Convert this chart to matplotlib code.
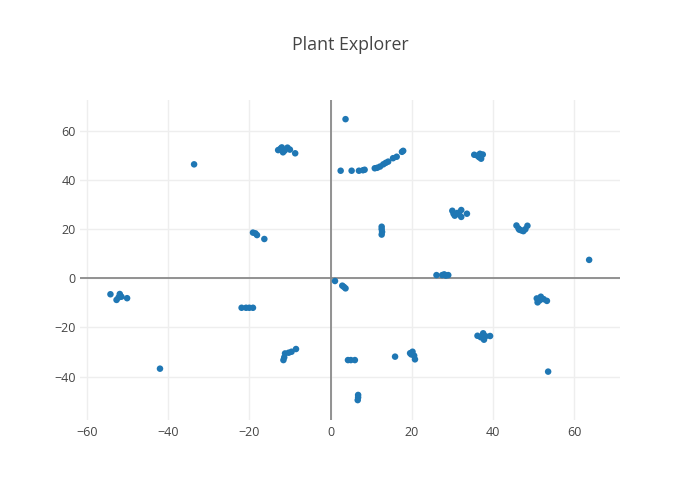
import matplotlib
matplotlib.use("Agg")
import matplotlib.pyplot as plt

# point coordinates, grouped roughly by cluster
x_vals = [
    3.7,
    2.5, 5.2, 7.0, 8.0, 8.4, 10.9, 11.5, 12.2, 13.0, 13.6, 14.2, 15.4, 16.3, 17.6, 17.9,
    -33.6,
    -12.9, -12.3, -12.0, -11.7, -11.3, -10.6, -10.0, -8.7,
    -19.1, -18.5, -18.1, -16.3,
    35.4, 36.2, 36.6, 36.8, 37.1, 37.5,
    12.6, 12.6, 12.7, 12.6,
    30.0, 30.3, 30.6, 31.2, 31.7, 32.2, 32.2, 33.6,
    45.8, 46.3, 46.5, 47.0, 47.5, 48.0, 48.5,
    63.7,
    26.1, 27.5, 28.0, 28.4, 29.0,
    -54.2, -52.7, -52.2, -51.9, -51.5, -50.1,
    -21.9, -20.8, -20.0, -19.1,
    -42.0,
    -11.6, -11.4, -11.2, -10.3, -9.6, -8.5,
    1.1, 2.9, 3.3, 3.7,
    4.3, 5.0, 6.0,
    6.8, 6.8, 6.7,
    15.9,
    19.6, 19.9, 20.2, 20.6, 20.8,
    36.2, 37.0, 37.6, 37.8, 38.2, 39.3,
    50.8, 51.0, 51.5, 51.8, 52.5, 53.3,
    53.6,
]
y_vals = [
    64.8,
    43.8, 43.8, 43.8, 44.0, 44.2, 44.8, 45.0, 45.5, 46.4, 47.0, 47.5, 48.9, 49.5, 51.5, 51.9,
    46.4,
    52.2, 52.8, 53.3, 51.3, 52.0, 53.2, 52.4, 50.9,
    18.6, 18.3, 17.6, 16.0,
    50.3, 49.9, 49.3, 50.7, 48.7, 50.4,
    21.0, 20.0, 18.9, 17.8,
    27.5, 26.3, 25.5, 26.6, 26.0, 27.8, 25.0, 26.3,
    21.5, 20.3, 19.8, 19.5, 19.2, 20.0, 21.4,
    7.5,
    1.3, 1.3, 1.6, 1.1, 1.3,
    -6.5, -8.8, -7.8, -6.4, -7.5, -8.1,
    -12.0, -12.0, -12.0, -12.0,
    -36.8,
    -33.3, -32.2, -30.6, -30.3, -29.9, -28.8,
    -1.1, -3.0, -3.5, -4.1,
    -33.3, -33.3, -33.3,
    -47.5, -48.5, -49.6,
    -31.9,
    -30.5, -31.0, -29.9, -31.5, -33.0,
    -23.4, -24.0, -22.4, -25.0, -23.6, -23.5,
    -8.2, -9.8, -9.0, -7.5, -8.5, -9.2,
    -38.0,
]
x_ticks = [-60, -40, -20, 0, 20, 40, 60]
y_ticks = [-40, -20, 0, 20, 40, 60]

plt.rcParams['font.family'] = ['Open Sans', 'DejaVu Sans']

fig = plt.figure(figsize=(7, 5), dpi=100)
ax = fig.add_axes([80/700, 80/500, 540/700, 320/500])

ax.scatter(x_vals, y_vals, s=22, color='#1f77b4', edgecolors='none', zorder=3)

# zero lines and grid, plotly style
ax.axhline(0, color='#8a8a8a', linewidth=1.3, zorder=2)
ax.axvline(0, color='#8a8a8a', linewidth=1.3, zorder=2)
ax.grid(True, color='#eeeeee', linewidth=1, zorder=0)
ax.set_axisbelow(True)

ax.set_xlim(-61.7, 71.3)
ax.set_ylim(-57.7, 72.6)
ax.set_xticks(x_ticks)
ax.set_yticks(y_ticks)
ax.set_xticklabels([str(t).replace('-', '\u2212') for t in x_ticks])
ax.set_yticklabels([str(t).replace('-', '\u2212') for t in y_ticks])
ax.tick_params(axis='both', length=0, labelsize=9, colors='#444444')
ax.tick_params(axis='x', pad=4)
ax.tick_params(axis='y', pad=3)
for s in ax.spines.values():
    s.set_visible(False)

fig.text(0.5, 0.91, "Plant Explorer", ha='center', va='center',
         fontsize=12.75, color='#444444')

fig.savefig("out.png", dpi=100, facecolor='white')
